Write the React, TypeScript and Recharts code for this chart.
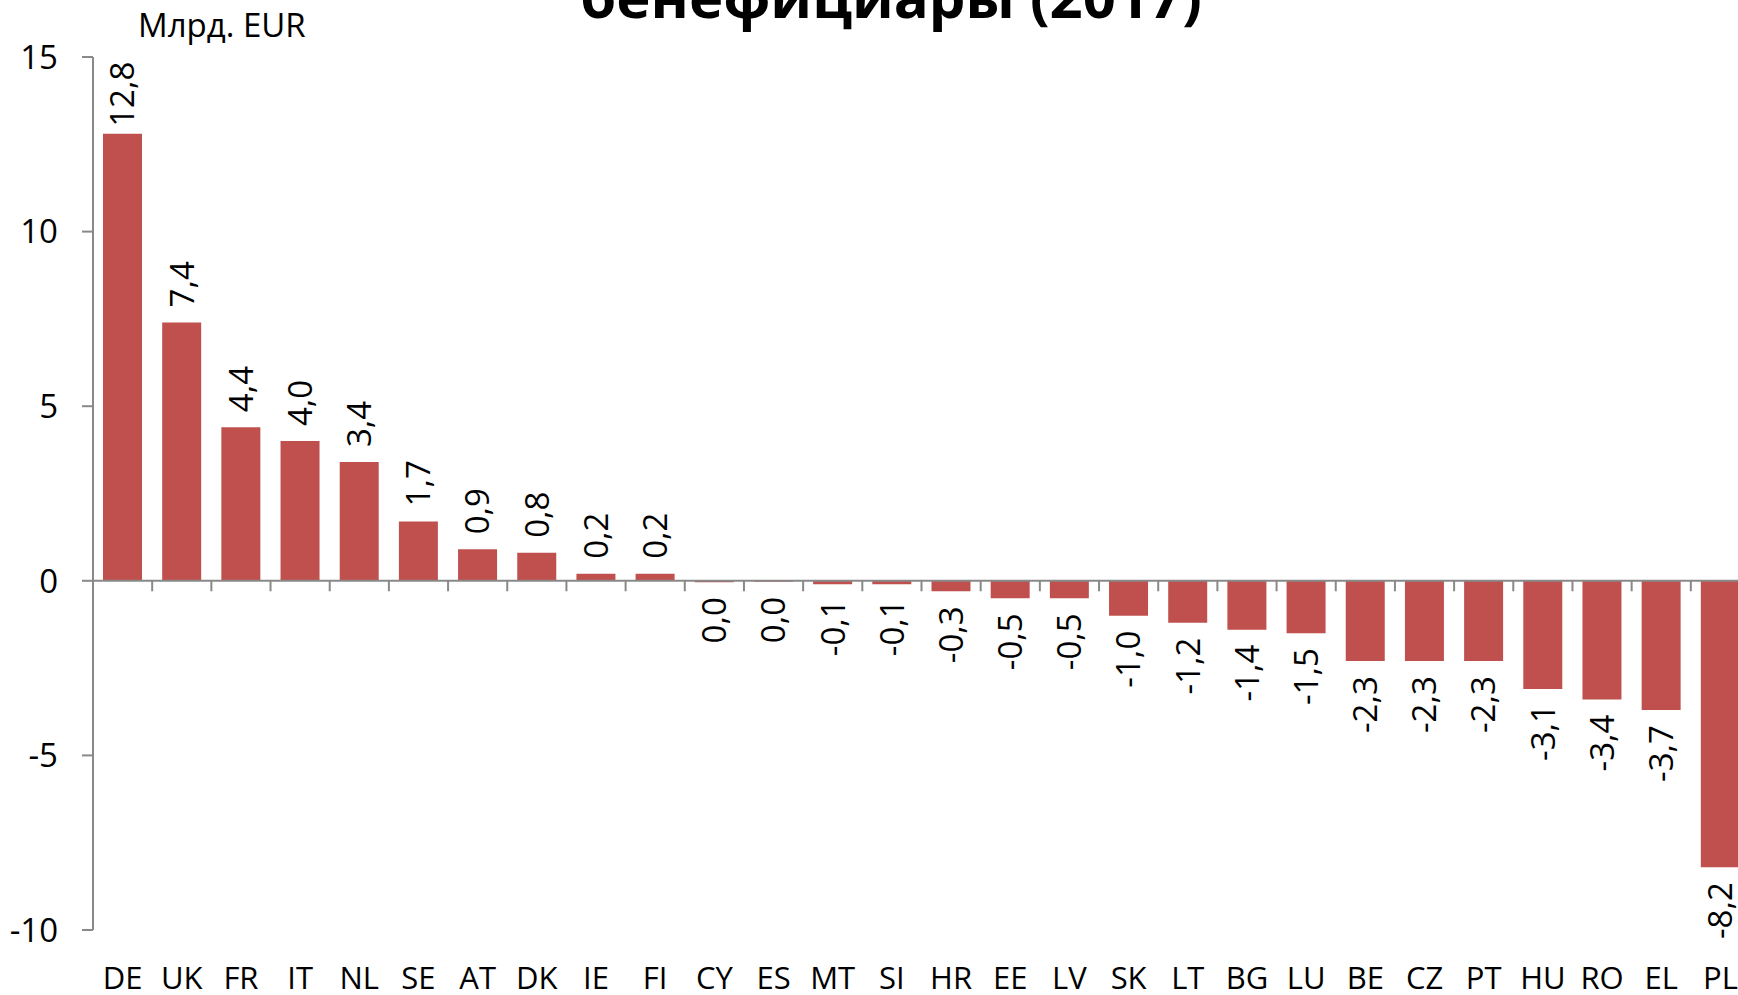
import { BarChart, Bar, XAxis, YAxis, ReferenceLine, LabelList } from "recharts";

// ── Data ────────────────────────────────────────────────────────────

const countries = [
  "DE", "UK", "FR", "IT", "NL", "SE", "AT", "DK", "IE", "FI",
  "CY", "ES", "MT", "SI", "HR", "EE", "LV", "SK", "LT", "BG",
  "LU", "BE", "CZ", "PT", "HU", "RO", "EL", "PL",
];

// net balance, bn EUR
const balances = [
  12.8, 7.4, 4.4, 4.0, 3.4, 1.7, 0.9, 0.8, 0.2, 0.2,
  -0.04, -0.03, -0.1, -0.1, -0.3, -0.5, -0.5, -1.0, -1.2, -1.4,
  -1.5, -2.3, -2.3, -2.3, -3.1, -3.4, -3.7, -8.2,
];

const yTicks = [-10, -5, 0, 5, 10, 15];

const TITLE = "бенефициары (2017)";
const UNIT = "Млрд. EUR";

// ── Style ───────────────────────────────────────────────────────────

const BAR_COLOR = "#C0504D";
const AXIS_COLOR = "#898989";
const FONT = "'Open Sans', sans-serif";
const FS_LABEL = 33;
const FS_X = 31;
const FS_Y = 33;

const data = countries.map((c, i) => ({ country: c, value: balances[i] }));

const fmt = (v: number) => (Math.abs(v) < 0.05 ? "0,0" : v.toFixed(1).replace(".", ","));

// rotated value label, above positive bars and below negative ones
function ValueLabel(props: any) {
  const vb = props.viewBox ?? props;
  const v = Number(props.value);
  const x = Number(vb.x) + Number(vb.width) / 2;
  const h = Number(vb.height);
  const y0 = Number(vb.y);
  const top = Math.min(y0, y0 + h);
  const bottom = Math.max(y0, y0 + h);
  const neg = v < 0;
  // the tallest bar's label sits closer, as it would otherwise leave the plot
  const gap = v > 10 ? 7 : 15;
  const ty = neg ? bottom + gap : top - gap;
  return (
    <text
      transform={`translate(${x},${ty}) rotate(-90)`}
      textAnchor={neg ? "end" : "start"}
      dy="0.36em"
      fontSize={FS_LABEL}
      fontFamily={FONT}
      fill="#000"
    >
      {fmt(v)}
    </text>
  );
}

export default function App() {
  return (
    <div
      style={{
        position: "fixed",
        left: 0,
        top: 0,
        width: 1738,
        height: 995,
        overflow: "hidden",
        background: "#fff",
        fontFamily: FONT,
      }}
    >
      <div
        style={{
          position: "absolute",
          left: 0,
          width: 1782,
          top: -33,
          textAlign: "center",
          fontSize: 58,
          lineHeight: "58px",
          fontWeight: 700,
          whiteSpace: "nowrap",
        }}
      >
        {TITLE}
      </div>
      <div
        style={{
          position: "absolute",
          left: 138,
          top: 8,
          fontSize: FS_LABEL,
          lineHeight: `${FS_LABEL}px`,
          whiteSpace: "nowrap",
        }}
      >
        {UNIT}
      </div>
      <BarChart
        width={1752}
        height={995}
        data={data}
        margin={{ top: 57, right: 2, left: 0, bottom: 0 }}
        barSize={39}
      >
        <XAxis
          dataKey="country"
          interval={0}
          axisLine={false}
          tickLine={false}
          tickSize={0}
          tickMargin={37}
          height={65}
          tick={{ fill: "#000", fontSize: FS_X, fontFamily: FONT }}
        />
        <YAxis
          domain={[-10, 15]}
          ticks={yTicks}
          width={93}
          axisLine={{ stroke: AXIS_COLOR, strokeWidth: 2 }}
          tickLine={{ stroke: AXIS_COLOR, strokeWidth: 2 }}
          tickSize={11}
          tickMargin={24}
          tick={{ fill: "#000", fontSize: FS_Y, fontFamily: FONT }}
          allowDataOverflow
        />
        <ReferenceLine y={0} stroke={AXIS_COLOR} strokeWidth={2} />
        {countries.slice(1).map((c) => (
          <ReferenceLine
            key={c}
            segment={[
              { x: c, y: 0 },
              { x: c, y: -0.3 },
            ]}
            position="start"
            stroke={AXIS_COLOR}
            strokeWidth={2}
          />
        ))}
        <Bar dataKey="value" fill={BAR_COLOR} isAnimationActive={false}>
          <LabelList dataKey="value" content={ValueLabel} />
        </Bar>
      </BarChart>
    </div>
  );
}
